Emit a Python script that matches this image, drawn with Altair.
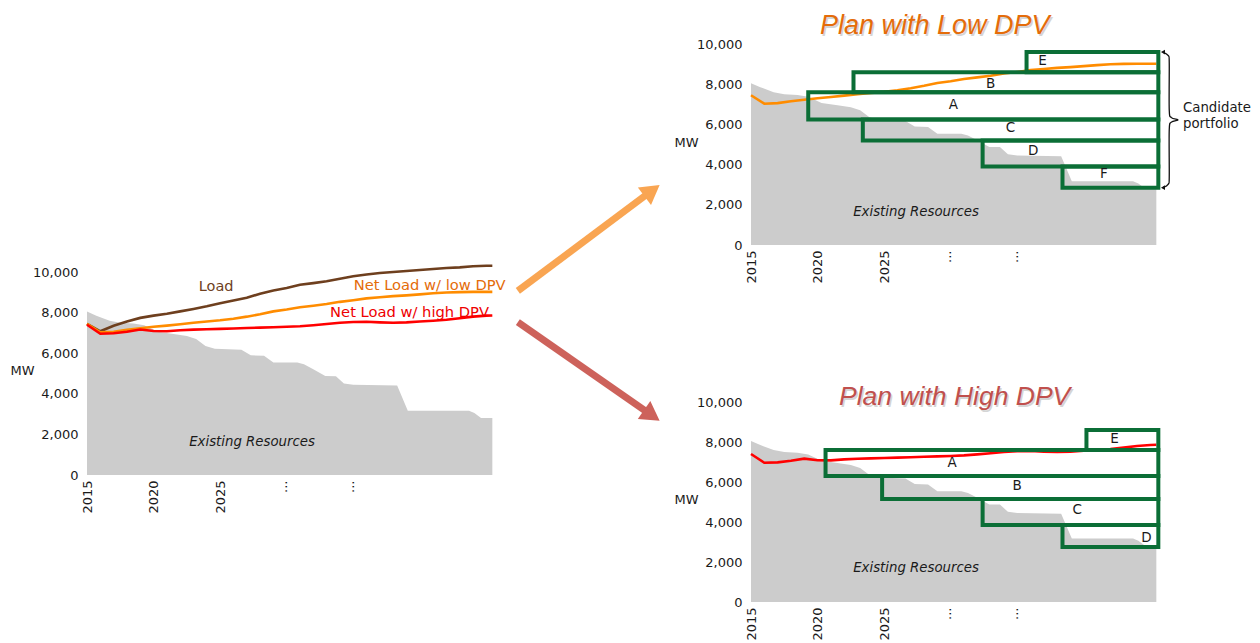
import math
import altair as alt
import pandas as pd

# ---------------- data ----------------
YEARS = [2015, 2016, 2017, 2018, 2019, 2020, 2021, 2022, 2023, 2024, 2025, 2026, 2027,
         2028, 2029, 2030, 2031, 2032, 2033, 2034, 2035, 2036, 2037, 2038, 2039, 2040,
         2041, 2042, 2043, 2044, 2045, 2045.45]
LOAD = [7450, 7080, 7350, 7560, 7740, 7850, 7940, 8060, 8180, 8310, 8460, 8600, 8730,
        8930, 9090, 9210, 9370, 9450, 9540, 9670, 9790, 9880, 9950, 10000, 10050, 10100,
        10150, 10200, 10230, 10280, 10310, 10310]
NET_LOW = [7450, 7030, 7060, 7150, 7230, 7300, 7360, 7430, 7500, 7560, 7620, 7700, 7800,
           7920, 8060, 8150, 8260, 8340, 8420, 8530, 8610, 8700, 8760, 8810, 8850, 8900,
           8950, 8990, 9010, 9020, 9020, 9020]
NET_HIGH = [7400, 6960, 6980, 7060, 7170, 7090, 7080, 7130, 7160, 7180, 7200, 7220, 7240,
            7260, 7280, 7300, 7330, 7380, 7440, 7500, 7540, 7550, 7520, 7500, 7520, 7560,
            7600, 7650, 7720, 7800, 7850, 7860]

RES_YEARS = [2015, 2015.7, 2016.7, 2017.5, 2018.5, 2019.3, 2020.3, 2021.5, 2022.5, 2023.2,
             2023.9, 2024.6, 2026.6, 2027.3, 2028.3, 2029.0, 2030.8, 2031.3, 2032.0, 2032.9,
             2033.7, 2034.3, 2035.0, 2038.3, 2039.1, 2043.7, 2044.1, 2044.6, 2045.45]
RES_MW = [8050, 7850, 7600, 7500, 7460, 7380, 7060, 6950, 6850, 6700,
          6350, 6220, 6170, 5900, 5870, 5540, 5540, 5450, 5210, 4880,
          4870, 4510, 4450, 4410, 3170, 3170, 3060, 2810, 2810]

XTICKS = [2015, 2020, 2025, 2030, 2035]
YTICKS = [0, 2000, 4000, 6000, 8000, 10000]

# left-chart annotations
ANN_TEXT = ["Load", "Net Load w/ low DPV", "Net Load w/ high DPV"]
ANN_X = [2024.7, 2046.45, 2045.2]
ANN_Y = [9260, 9310, 7995]
EXIST_LABEL = "Existing Resources"

# candidate portfolio, plan with low DPV
LOW_NAMES = ["E", "B", "A", "C", "D", "F"]
LOW_START = [2035.7, 2022.7, 2019.3, 2023.4, 2032.4, 2038.4]
LOW_TOP = [9600, 8600, 7600, 6250, 5200, 3900]
LOW_BOTTOM = [8600, 7600, 6250, 5200, 3900, 2850]
LOW_LABEL_X = [2036.9, 2033.0, 2030.2, 2034.5, 2036.2, 2041.5]
LOW_LABEL_Y = [9150, 8010, 6965, 5820, 4680, 3530]

# candidate portfolio, plan with high DPV
HIGH_NAMES = ["E", "A", "B", "C", "D"]
HIGH_START = [2040.2, 2020.6, 2024.85, 2032.4, 2038.4]
HIGH_TOP = [8600, 7600, 6300, 5150, 3850]
HIGH_BOTTOM = [7600, 6300, 5150, 3850, 2750]
HIGH_LABEL_X = [2042.3, 2030.1, 2035.0, 2039.5, 2044.7]
HIGH_LABEL_Y = [8135, 6935, 5785, 4585, 3185]
BOX_END = 2045.6

# curly brace beside the low-DPV portfolio
BRACE_X = [2045.95, 2046.35, 2046.42, 2046.42, 2046.58, 2047.08, 2046.58, 2046.42, 2046.42, 2046.35, 2045.95]
BRACE_Y = [9600, 9420, 9050, 6720, 6340, 6225, 6110, 5730, 3400, 3030, 2850]
BRACE_TEXT = ["Candidate", "portfolio"]
BRACE_TEXT_X = [2047.45, 2047.45]
BRACE_TEXT_Y = [6815, 6020]

TITLE_LOW = "Plan with Low DPV"
TITLE_LOW_X, TITLE_LOW_Y = 2028.8, 10522
TITLE_HIGH = "Plan with High DPV"
TITLE_HIGH_X, TITLE_HIGH_Y = 2030.3, 9860
EXIST_LOW_XY = (2027.4, 1642)
EXIST_HIGH_XY = (2027.4, 1685)
EXIST_LEFT_XY = (2027.4, 1640)

# arrows between panels (fractions of the arrow panel, y measured from top)
ARROW_TAIL_X = [0.071, 0.071]
ARROW_TAIL_Y = [0.643, 0.714]
ARROW_TIP_X = [0.92, 0.92]
ARROW_TIP_Y = [0.402, 0.938]
ARROW_COLORS = ["#F9A552", "#CD625B"]

# ---------------- styles ----------------
FONT = "DejaVu Sans"
TITLE_FONT = "Liberation Sans"
INK = "#1a1a1a"
GRAY = "#CCCCCC"
C_LOAD = "#6E3F1E"
C_LOW = "#FF8C00"
C_HIGH = "#FF0000"
C_LOW_TXT = "#E46C0A"
C_HIGH_TXT = "#EE0000"
GREEN = "#0B6E36"
W = 406

res_df = pd.DataFrame({"year": RES_YEARS, "mw": RES_MW})
lines_df = pd.concat([
    pd.DataFrame({"year": YEARS, "mw": LOAD, "series": "Load"}),
    pd.DataFrame({"year": YEARS, "mw": NET_LOW, "series": "Net Load w/ low DPV"}),
    pd.DataFrame({"year": YEARS, "mw": NET_HIGH, "series": "Net Load w/ high DPV"}),
], ignore_index=True)
low_df = pd.DataFrame({"year": YEARS, "mw": NET_LOW})
high_df = pd.DataFrame({"year": YEARS, "mw": NET_HIGH})

xs = alt.Scale(domain=[2015, 2045.5], nice=False, zero=False)


def x_axis():
    return alt.Axis(values=XTICKS, format="d",
                    labelExpr="datum.value >= 2030 ? '\u00b7\u00b7\u00b7' : datum.label",
                    labelAngle=-90, labelPadding=5, labelFlush=False, labelOverlap=False,
                    labelBound=False, domain=False, ticks=False, tickSize=0, grid=False,
                    title=None, labelFont=FONT, labelFontSize=13, labelColor=INK)


def y_axis(title_y):
    return alt.Axis(values=YTICKS, format=",d", title="MW", titleAngle=0, titleAlign="right",
                    titleBaseline="middle", titleX=-53, titleY=title_y, titlePadding=0,
                    titleFont=FONT, titleFontSize=13, titleFontWeight="normal", titleColor=INK,
                    labelPadding=9, labelFont=FONT, labelFontSize=13, labelColor=INK,
                    domain=False, ticks=False, tickSize=0, grid=False)


def enc(ys, ty, xf="year", yf="mw"):
    return dict(x=alt.X(f"{xf}:Q", scale=xs, axis=x_axis()),
                y=alt.Y(f"{yf}:Q", scale=ys, axis=y_axis(ty)))


def text_layer(text, x, y, ys, ty, color=INK, size=13, align="center", font=FONT,
               style="normal", baseline="middle", dx=0, dy=0, opacity=1):
    df = pd.DataFrame({"year": [x], "mw": [y], "t": [text]})
    return alt.Chart(df).mark_text(color=color, fontSize=size, align=align, font=font,
                                   fontStyle=style, baseline=baseline, dx=dx, dy=dy,
                                   opacity=opacity).encode(text="t:N", **enc(ys, ty))


def boxes_layers(names, start, top, bottom, lx, ly, ys, ty):
    bdf = pd.DataFrame({"x0": start, "x1": [BOX_END] * len(start), "y0": top, "y1": bottom})
    e = enc(ys, ty, "x0", "y0")
    rect = alt.Chart(bdf).mark_rect(fillOpacity=0, stroke=GREEN, strokeWidth=4,
                                    strokeJoin="miter").encode(
        x=e["x"], x2="x1:Q", y=e["y"], y2="y1:Q")
    ldf = pd.DataFrame({"year": lx, "mw": ly, "t": names})
    labels = alt.Chart(ldf).mark_text(font=FONT, fontSize=13.5, color=INK,
                                      baseline="middle").encode(text="t:N", **enc(ys, ty))
    return [rect, labels]


# ---------------- left chart ----------------
LEFT_H = 467
ys_left = alt.Scale(domain=[0, 10000 * LEFT_H / 203], nice=False, zero=True)
TY_LEFT = 362

left_layers = [
    alt.Chart(res_df).mark_area(color=GRAY).encode(**enc(ys_left, TY_LEFT)),
    alt.Chart(lines_df).mark_line(strokeWidth=2.6).encode(
        color=alt.Color("series:N", legend=None,
                        scale=alt.Scale(domain=ANN_TEXT, range=[C_LOAD, C_LOW, C_HIGH])),
        order=alt.Order("year:Q"),
        **enc(ys_left, TY_LEFT)),
    text_layer(ANN_TEXT[0], ANN_X[0], ANN_Y[0], ys_left, TY_LEFT, color=C_LOAD, size=14.5),
    text_layer(ANN_TEXT[1], ANN_X[1], ANN_Y[1], ys_left, TY_LEFT, color=C_LOW_TXT, align="right", size=14.7),
    text_layer(ANN_TEXT[2], ANN_X[2], ANN_Y[2], ys_left, TY_LEFT, color=C_HIGH_TXT, align="right", size=14.7),
    text_layer(EXIST_LABEL, EXIST_LEFT_XY[0], EXIST_LEFT_XY[1], ys_left, TY_LEFT, style="italic", size=13.3),
]
left_chart = alt.layer(*left_layers).properties(width=W, height=LEFT_H)

# ---------------- top-right chart (low DPV) ----------------
TOP_H = 237
ys_top = alt.Scale(domain=[0, 10000 * TOP_H / 201], nice=False, zero=True)
TY_TOP = 134
brace_df = pd.DataFrame({"year": BRACE_X, "mw": BRACE_Y, "i": list(range(len(BRACE_X)))})
brace_ends = pd.DataFrame({"year": [BRACE_X[0], BRACE_X[-1]], "mw": [BRACE_Y[0], BRACE_Y[-1]]})

top_layers = [
    alt.Chart(res_df).mark_area(color=GRAY).encode(**enc(ys_top, TY_TOP)),
    alt.Chart(low_df).mark_line(strokeWidth=2.6, color=C_LOW).encode(**enc(ys_top, TY_TOP)),
    *boxes_layers(LOW_NAMES, LOW_START, LOW_TOP, LOW_BOTTOM, LOW_LABEL_X, LOW_LABEL_Y, ys_top, TY_TOP),
    text_layer(EXIST_LABEL, EXIST_LOW_XY[0], EXIST_LOW_XY[1], ys_top, TY_TOP, style="italic", size=13.3),
    alt.Chart(brace_df).mark_line(color="#111", strokeWidth=1.3, interpolate="cardinal").encode(
        order=alt.Order("i:Q"), **enc(ys_top, TY_TOP)),
    alt.Chart(brace_ends).mark_point(shape="triangle-left", filled=True, size=22, color="#111",
                                     opacity=1).encode(**enc(ys_top, TY_TOP)),
    text_layer(BRACE_TEXT[0], BRACE_TEXT_X[0], BRACE_TEXT_Y[0], ys_top, TY_TOP, align="left", size=13.3),
    text_layer(BRACE_TEXT[1], BRACE_TEXT_X[1], BRACE_TEXT_Y[1], ys_top, TY_TOP, align="left", size=13.3),
    text_layer(TITLE_LOW, TITLE_LOW_X, TITLE_LOW_Y, ys_top, TY_TOP, color="#000", size=27,
               font=TITLE_FONT, style="italic", baseline="alphabetic", dx=1.5, dy=2.5, opacity=0.16),
    text_layer(TITLE_LOW, TITLE_LOW_X, TITLE_LOW_Y, ys_top, TY_TOP, color=C_LOW_TXT, size=27,
               font=TITLE_FONT, style="italic", baseline="alphabetic"),
]
top_chart = alt.layer(*top_layers).properties(width=W, height=TOP_H)

# ---------------- bottom-right chart (high DPV) ----------------
BOT_H = 220
ys_bot = alt.Scale(domain=[0, 10000 * BOT_H / 200], nice=False, zero=True)
TY_BOT = 117

bot_layers = [
    alt.Chart(res_df).mark_area(color=GRAY).encode(**enc(ys_bot, TY_BOT)),
    alt.Chart(high_df).mark_line(strokeWidth=2.6, color=C_HIGH).encode(**enc(ys_bot, TY_BOT)),
    *boxes_layers(HIGH_NAMES, HIGH_START, HIGH_TOP, HIGH_BOTTOM, HIGH_LABEL_X, HIGH_LABEL_Y, ys_bot, TY_BOT),
    text_layer(EXIST_LABEL, EXIST_HIGH_XY[0], EXIST_HIGH_XY[1], ys_bot, TY_BOT, style="italic", size=13.3),
    text_layer(TITLE_HIGH, TITLE_HIGH_X, TITLE_HIGH_Y, ys_bot, TY_BOT, color="#000", size=26.5,
               font=TITLE_FONT, style="italic", baseline="alphabetic", dx=1.5, dy=2.5, opacity=0.16),
    text_layer(TITLE_HIGH, TITLE_HIGH_X, TITLE_HIGH_Y, ys_bot, TY_BOT, color="#C0504D", size=26.5,
               font=TITLE_FONT, style="italic", baseline="alphabetic"),
]
bot_chart = alt.layer(*bot_layers).properties(width=W, height=BOT_H)

right_col = alt.vconcat(top_chart, bot_chart, spacing=98)

# ---------------- arrow panel ----------------
AW, AH = 167, 440
HEAD_SIZE = 480
half_h = math.sqrt(3) / 2 * math.sqrt(HEAD_SIZE) / 2
rows = []
for i in range(2):
    tx, ty_ = ARROW_TAIL_X[i] * AW, ARROW_TAIL_Y[i] * AH
    hx, hy = ARROW_TIP_X[i] * AW, ARROW_TIP_Y[i] * AH
    L = math.hypot(hx - tx, hy - ty_)
    ux, uy = (hx - tx) / L, (hy - ty_) / L
    cx, cy = hx - half_h * ux, hy - half_h * uy
    ang = math.degrees(math.atan2(ux, -uy)) % 360
    rows.append({"x0": ARROW_TAIL_X[i], "y0": ARROW_TAIL_Y[i], "x1": cx / AW, "y1": cy / AH,
                 "ang": ang})
arrow_df = pd.DataFrame(rows)
axs = alt.Scale(domain=[0, 1], nice=False, zero=False)
ays = alt.Scale(domain=[0, 1], nice=False, zero=False, reverse=True)

arrow_layers = []
for i in range(2):
    d = arrow_df.iloc[[i]]
    arrow_layers.append(alt.Chart(d).mark_rule(strokeWidth=7, color=ARROW_COLORS[i], strokeCap="butt").encode(
        x=alt.X("x0:Q", scale=axs, axis=None), y=alt.Y("y0:Q", scale=ays, axis=None),
        x2="x1:Q", y2="y1:Q"))
    arrow_layers.append(alt.Chart(d).mark_point(shape="triangle-up", filled=True, size=HEAD_SIZE,
                                                color=ARROW_COLORS[i], opacity=1,
                                                angle=float(arrow_df["ang"][i])).encode(
        x=alt.X("x1:Q", scale=axs, axis=None), y=alt.Y("y1:Q", scale=ays, axis=None)))
arrow_panel = alt.layer(*arrow_layers).properties(width=AW, height=AH)

chart = alt.hconcat(left_chart, arrow_panel, right_col, spacing=0).properties(
    padding={"left": 1, "top": 0, "right": 0, "bottom": 0}
).configure_view(stroke=None)

chart.save("out.html", embed_options={"renderer": "svg", "actions": False})
